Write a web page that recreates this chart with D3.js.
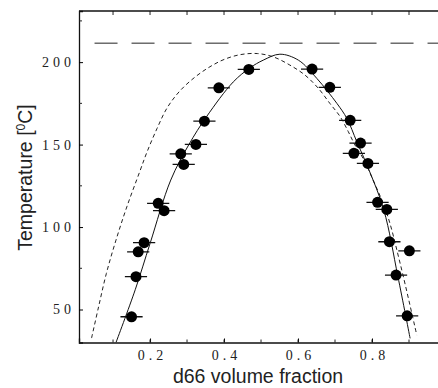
<!DOCTYPE html>
<html>
<head>
<meta charset="utf-8">
<script src="https://cdn.jsdelivr.net/npm/d3@7"></script>
<style>
body { margin: 0; background: #fff; }
svg { display: block; }
</style>
</head>
<body>
<script>
// measured points (volume fraction, temperature)
var frac = [0.150, 0.162, 0.168, 0.184, 0.222, 0.238, 0.291, 0.283, 0.324, 0.347, 0.386, 0.467,
	0.638, 0.686, 0.741, 0.769, 0.751, 0.789, 0.815, 0.840, 0.847, 0.901, 0.865, 0.895];
var temp = [45.6, 69.9, 85, 90.5, 114.4, 109.9, 138, 144.4, 150.1, 164.2, 184.4, 195.6,
	195.8, 184.7, 164.7, 150.9, 144.7, 138.6, 115, 110.7, 91.1, 85.6, 70.9, 46.2];
var fracErr = 0.03;

// solid curve
var solidX = [0.108, 0.16, 0.2, 0.256, 0.305, 0.353, 0.425, 0.47, 0.506, 0.551, 0.601, 0.651,
	0.705, 0.732, 0.759, 0.790, 0.832, 0.870, 0.903];
var solidT = [30, 62, 90, 128.5, 150, 167, 188, 196.5, 201.2, 204.8, 201.2, 190.1,
	175, 165.9, 151.7, 135.6, 110.3, 70, 32.5];

// dashed curve
var dashX = [0.042, 0.061, 0.082, 0.108, 0.138, 0.172, 0.192, 0.219, 0.246, 0.281, 0.322, 0.362,
	0.40, 0.443, 0.49, 0.533, 0.578, 0.619, 0.655, 0.686, 0.714, 0.736, 0.754, 0.776, 0.80,
	0.840, 0.876, 0.921];
var dashT = [32.7, 51.7, 71.9, 92.1, 112.7, 133.5, 145.6, 159.8, 172.2, 182.6, 191, 197.2,
	201.6, 204.5, 205.2, 203.2, 198.2, 192.1, 184.1, 175, 166.9, 157.8, 149.7, 141.6, 130,
	108.3, 78, 34.5];

var hLineT = 211.5;

var xTicks = [0.2, 0.4, 0.6, 0.8];
var yTicks = [50, 100, 150, 200];

var width = 438, height = 388;
var padLeft = 79, padTop = 11, padBottom = 342.5, padRight = 446;

var svg = d3.select("body").append("svg")
	.attr("width", width)
	.attr("height", height);

var x = d3.scaleLinear().domain([0.008, 1]).range([padLeft, padRight]);
var y = d3.scaleLinear().domain([30, 231]).range([padBottom, padTop]);

svg.append("defs").append("clipPath").attr("id", "clip")
	.append("rect").attr("x", padLeft).attr("y", padTop)
	.attr("width", padRight - padLeft).attr("height", padBottom - padTop);

var tickFont = "'Liberation Serif', serif";

// bottom axis
var xAxis = d3.axisBottom(x).tickValues(xTicks).tickSize(-4).tickPadding(8)
	.tickFormat(d3.format(".1f"));
var gx = svg.append("g").attr("transform", `translate(0, ${padBottom})`).call(xAxis);
gx.selectAll("text").attr("font-family", tickFont).attr("font-size", 14)
	.attr("letter-spacing", 4).attr("dx", 2).attr("fill", "#222");

// minor ticks bottom / top
var minorX = d3.range(0.1, 1.0, 0.1);
svg.append("g").selectAll("line").data(minorX).join("line")
	.attr("x1", d => x(d)).attr("x2", d => x(d))
	.attr("y1", padBottom).attr("y2", padBottom - 3)
	.attr("stroke", "#222");
svg.append("g").selectAll("line").data(minorX).join("line")
	.attr("x1", d => x(d)).attr("x2", d => x(d))
	.attr("y1", padTop).attr("y2", padTop + 4)
	.attr("stroke", "#222");

// left axis
var yAxis = d3.axisLeft(y).tickValues(yTicks).tickSize(-4).tickPadding(8);
var gy = svg.append("g").attr("transform", `translate(${padLeft}, 0)`).call(yAxis);
gy.selectAll("text").attr("font-family", tickFont).attr("font-size", 14)
	.attr("letter-spacing", 4).attr("dx", 4).attr("fill", "#222");
svg.append("g").selectAll("line").data([75, 125, 175, 225]).join("line")
	.attr("x1", padLeft).attr("x2", padLeft + 3)
	.attr("y1", d => y(d)).attr("y2", d => y(d))
	.attr("stroke", "#222");

svg.selectAll(".domain").attr("stroke", "#111").attr("stroke-width", 1.3);

// top frame line
svg.append("line")
	.attr("x1", padLeft).attr("x2", width)
	.attr("y1", padTop).attr("y2", padTop)
	.attr("stroke", "#111").attr("stroke-width", 1.3);

var plot = svg.append("g").attr("clip-path", "url(#clip)");

// horizontal dashed line
plot.append("line")
	.attr("x1", x(0.05)).attr("x2", width)
	.attr("y1", y(hLineT)).attr("y2", y(hLineT))
	.attr("stroke", "#222").attr("stroke-dasharray", "23,14");

var line = d3.line().x(d => x(d[0])).y(d => y(d[1])).curve(d3.curveCatmullRom);

plot.append("path")
	.datum(d3.zip(dashX, dashT))
	.attr("d", line)
	.attr("fill", "none").attr("stroke", "#222")
	.attr("stroke-width", 1).attr("stroke-dasharray", "4,3");

plot.append("path")
	.datum(d3.zip(solidX, solidT))
	.attr("d", line)
	.attr("fill", "none").attr("stroke", "#111")
	.attr("stroke-width", 1);

var pts = d3.zip(frac, temp);

plot.append("g").selectAll("line").data(pts).join("line")
	.attr("x1", d => x(d[0] - fracErr)).attr("x2", d => x(d[0] + fracErr))
	.attr("y1", d => y(d[1])).attr("y2", d => y(d[1]))
	.attr("stroke", "#111").attr("stroke-width", 1.3);

plot.append("g").selectAll("circle").data(pts).join("circle")
	.attr("cx", d => x(d[0])).attr("cy", d => y(d[1]))
	.attr("r", 5.5).attr("fill", "#000");

// axis titles
svg.append("text")
	.attr("x", 258).attr("y", 383)
	.attr("text-anchor", "middle")
	.attr("font-family", "'Liberation Sans', Arial, sans-serif")
	.attr("font-size", 19.5).attr("fill", "#222")
	.text("d66 volume fraction");

var yt = svg.append("text")
	.attr("transform", "translate(32, 177.5) rotate(-90)")
	.attr("text-anchor", "middle")
	.attr("font-family", "'Liberation Sans', Arial, sans-serif")
	.attr("font-size", 19.5).attr("fill", "#222");
yt.append("tspan").text("Temperature [");
yt.append("tspan").attr("font-size", 12).attr("dy", -7).text("0");
yt.append("tspan").attr("dy", 7).text("C]");
</script>
</body>
</html>
